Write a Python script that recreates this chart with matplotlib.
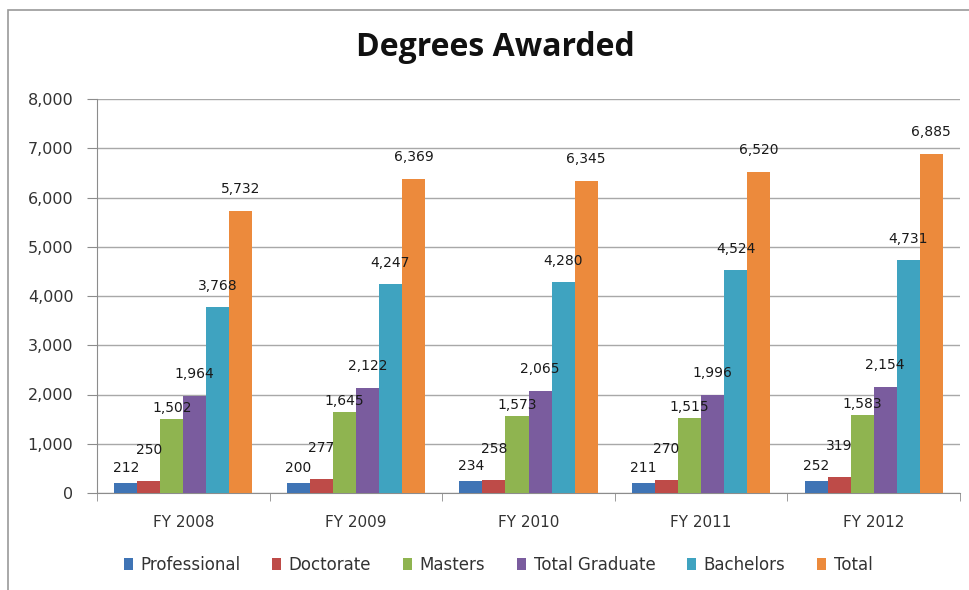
import numpy as np
import matplotlib.pyplot as plt
from matplotlib.patches import Rectangle
from matplotlib.ticker import FuncFormatter

years = ["FY 2008", "FY 2009", "FY 2010", "FY 2011", "FY 2012"]
series = ["Professional", "Doctorate", "Masters", "Total Graduate", "Bachelors", "Total"]
professional = [212, 200, 234, 211, 252]
doctorate = [250, 277, 258, 270, 319]
masters = [1502, 1645, 1573, 1515, 1583]
total_graduate = [1964, 2122, 2065, 1996, 2154]
bachelors = [3768, 4247, 4280, 4524, 4731]
total = [5732, 6369, 6345, 6520, 6885]

values = [professional, doctorate, masters, total_graduate, bachelors, total]
colors = ["#3F74B5", "#BE4B48", "#8FB450", "#7A5C9E", "#3FA3C0", "#EC8A3C"]
# label offset above bar top (pixels), per series
lab_off = [15, 31, 11, 22, 21, 22]

plt.rcParams.update({"font.family": "DejaVu Sans"})

fig = plt.figure(figsize=(9.69, 5.90), dpi=100)
ax = fig.add_axes([97 / 969, 97 / 590, 863 / 969, 394 / 590])

# chart border (left + top visible; right/bottom run off the image)
fig.patches.append(Rectangle((8 / 969, -0.05), 1.0, 0.05 + 580 / 590,
                             transform=fig.transFigure, fill=False,
                             edgecolor="#9A9A9A", lw=1.2))

x = np.arange(len(years))
n = len(series)
w = 0.8 / n
for i, (name, vals, col) in enumerate(zip(series, values, colors)):
    pos = x - 0.4 + w * (i + 0.5)
    ax.bar(pos, vals, width=w, color=col, label=name, zorder=3)
    for px, v in zip(pos, vals):
        ax.annotate(f"{v:,}", (px, v), xytext=(0, lab_off[i]),
                    textcoords="offset pixels", ha="center", va="center",
                    fontsize=10, color="#1A1A1A", zorder=4)

ax.set_xlim(-0.5, len(years) - 0.5)
ax.set_ylim(0, 8000)
ax.set_yticks(np.arange(0, 8001, 1000))
ax.yaxis.set_major_formatter(FuncFormatter(lambda v, p: f"{int(v):,}"))
ax.set_xticks(x)
ax.set_xticklabels(years)
ax.set_xticks(np.arange(-0.5, len(years)), minor=True)
ax.tick_params(axis="x", which="major", length=0, labelsize=11, pad=16,
               colors="#333333")
ax.tick_params(axis="x", which="minor", length=6, color="#8C8C8C")
ax.tick_params(axis="y", length=7, color="#8C8C8C", labelsize=11.5,
               colors="#333333", pad=10)
ax.grid(axis="y", color="#A8A8A8", lw=1.0, zorder=0)
for s in ["top", "right"]:
    ax.spines[s].set_visible(False)
for s in ["left", "bottom"]:
    ax.spines[s].set_color("#8C8C8C")

fig.text(495 / 969, 1 - 48 / 590, "Degrees Awarded", ha="center", va="center",
         fontsize=23, fontweight="bold", family="Open Sans", color="#111111")

fig.legend(loc="center", bbox_to_anchor=(498 / 969, 1 - 565 / 590), ncol=6,
           frameon=False, fontsize=12, handlelength=0.55, handleheight=0.7,
           handletextpad=0.45, columnspacing=1.9, labelcolor="#333333")

fig.savefig("out.png", dpi=100)
